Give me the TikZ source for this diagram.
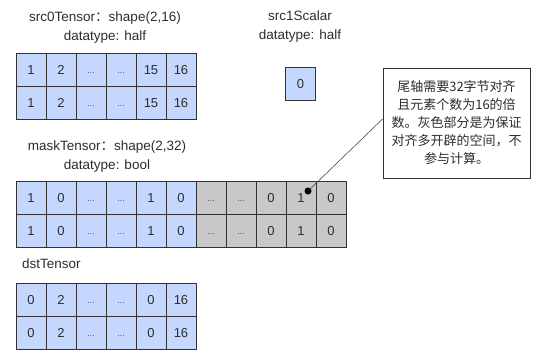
\documentclass[tikz,border=0pt]{standalone}
\usepackage{fontspec}
\setmainfont{Liberation Sans}
\newfontfamily\cjk{Noto Sans CJK SC}
\usepackage{tikz}
\definecolor{cellblue}{RGB}{197,215,254}
\definecolor{cellgray}{RGB}{200,200,203}
\definecolor{edgec}{RGB}{50,50,50}
\definecolor{txtc}{RGB}{45,45,45}
\tikzset{
  % one element of a tensor
  cell/.style    = {draw=edgec, fill=cellblue, line width=0.9pt, inner sep=0pt,
                    minimum width=30pt, minimum height=33pt,
                    text height=9.4pt, text depth=0pt, text=txtc,
                    font=\fontsize{13}{15}\selectfont},
  % an element only there for the 32-byte alignment
  pad/.style     = {cell, fill=cellgray},
  % the caption above a tensor
  tcaption/.style = {align=center, inner sep=0pt, text=txtc,
                    font=\fontsize{13.5}{19}\selectfont},
  % the remark box
  remark/.style  = {draw=edgec, line width=0.8pt, fill=white, align=center,
                    minimum width=147pt, minimum height=110pt, inner sep=0pt,
                    text=txtc, font=\cjk\fontsize{13}{18}\selectfont},
  pindot/.style  = {circle, fill=black, inner sep=0pt, minimum size=7pt},
}
\newcommand{\dt}{{\fontsize{8}{8}\selectfont\raisebox{0.5pt}{…}}}
% a row of cells: name, left x, centre y, list of value/style
\newcommand{\tensorrow}[4]{%
  \foreach \v/\s [count=\i] in {#4} {
    \node[\s] (#1-\i) at ({#2+30*(\i-1)+15},#3) {\v};
  }}

\begin{document}
\begin{tikzpicture}[x=1pt, y=-1pt]
  \useasboundingbox (0,0) rectangle (539,356);
  % src0Tensor
  \node[tcaption] (src0cap) at (105,27.5) {src0Tensor{\cjk：}shape(2,16)\\datatype: half};
  \tensorrow{a1}{16}{69.5}{1/cell, 2/cell, \dt/cell, \dt/cell, 15/cell, 16/cell}
  \tensorrow{a2}{16}{102.5}{1/cell, 2/cell, \dt/cell, \dt/cell, 15/cell, 16/cell}
  % src1Scalar
  \node[tcaption] (src1cap) at (300,27) {src1Scalar\\datatype: half};
  \node[cell] (s) at (300.5,83.5) {0};
  % maskTensor
  \node[tcaption] (maskcap) at (107,157) {maskTensor{\cjk：}shape(2,32)\\datatype: bool};
  \tensorrow{m1}{16}{197.5}{1/cell, 0/cell, \dt/cell, \dt/cell, 1/cell, 0/cell,
                           \dt/pad, \dt/pad, 0/pad, 1/pad, 0/pad}
  \tensorrow{m2}{16}{230.5}{1/cell, 0/cell, \dt/cell, \dt/cell, 1/cell, 0/cell,
                           \dt/pad, \dt/pad, 0/pad, 1/pad, 0/pad}
  % dstTensor
  \node[tcaption, anchor=west] (dstcap) at (22,264) {dstTensor};
  \tensorrow{d1}{16}{299.5}{0/cell, 2/cell, \dt/cell, \dt/cell, 0/cell, 16/cell}
  \tensorrow{d2}{16}{332.5}{0/cell, 2/cell, \dt/cell, \dt/cell, 0/cell, 16/cell}
  % remark on the padding
  \node[remark] (rem) at (456.5,123)
    {尾轴需要32字节对齐\\且元素个数为16的倍\\数。灰色部分是为保证\\对齐多开辟的空间，不\\参与计算。};
  \node[pindot] (dot) at (308,191) {};
  \draw[edgec, line width=0.5pt] ([yshift=4pt]rem.west) -- (dot.center);
\end{tikzpicture}
\end{document}
